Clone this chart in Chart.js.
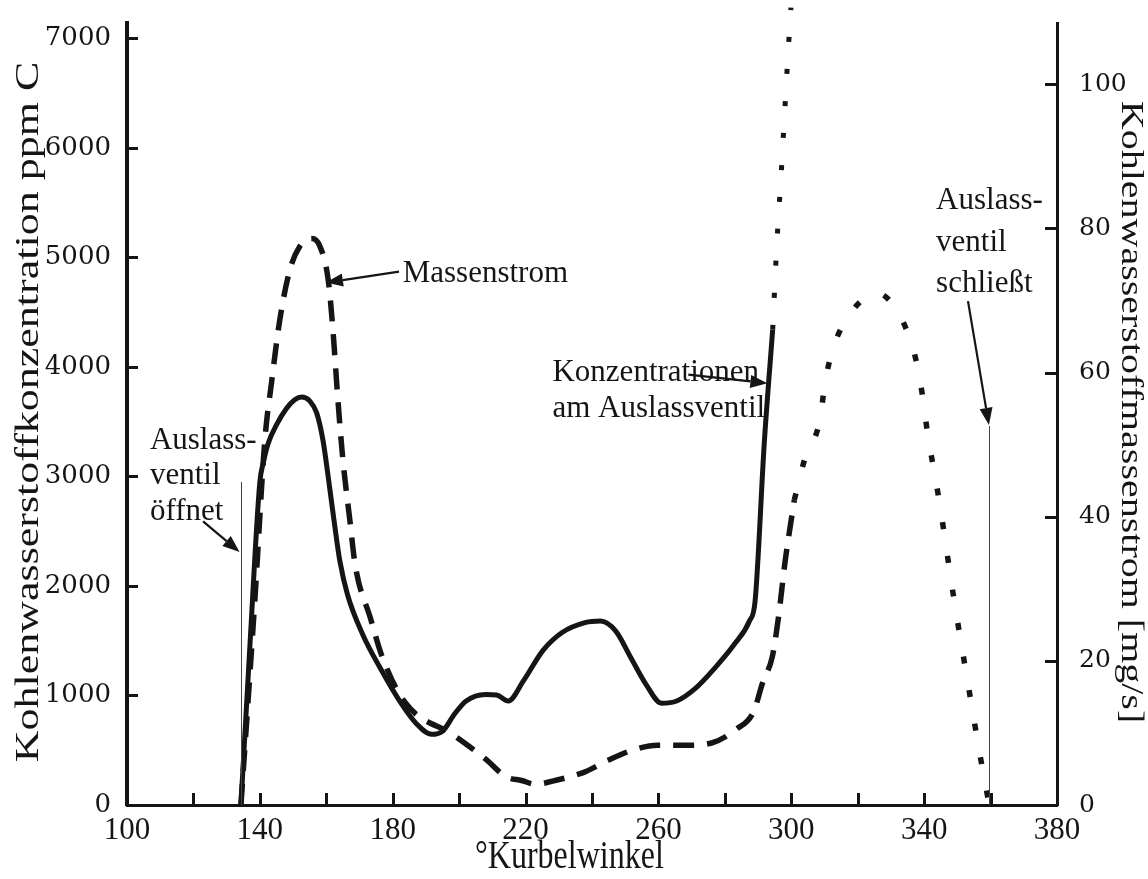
<!DOCTYPE html>
<html>
<head>
<meta charset="utf-8">
<script src="https://cdn.jsdelivr.net/npm/chart.js@4/dist/chart.umd.min.js"></script>
<style>
  html, body { margin: 0; padding: 0; background: #ffffff; }
  #wrap { width: 1148px; height: 879px; position: relative; }
</style>
</head>
<body>
<div id="wrap"><canvas id="c"></canvas></div>
<script>
// Crank angle [°KW] and HC concentration at the exhaust valve [ppm C]
const concAngle = [134.3, 137, 140, 141, 142.5, 145, 148, 150.5, 152.6, 155, 157.1, 159, 161, 162.5, 164.1, 166.4, 171, 176.7, 182.6, 187.2, 191.7, 195.2, 198.6, 202.1, 207.9, 211.3, 214.8, 219.4, 225.2, 231, 237.9, 242.5, 247.1, 251.7, 256.3, 260.9, 265.5, 271.3, 277.1, 282.8, 287.4, 289.1, 291.9, 294.4];
const concPpm = [0, 1450, 2950, 3120, 3300, 3470, 3620, 3700, 3725, 3690, 3580, 3330, 2900, 2560, 2225, 1920, 1555, 1225, 925, 740, 645, 680, 830, 950, 1010, 1005, 950, 1135, 1410, 1575, 1665, 1680, 1590, 1345, 1100, 930, 950, 1070, 1255, 1465, 1680, 1860, 3320, 4340];

// Concentration continued beyond the measured range (dotted)
const concExtAngle = [294.4, 295.7, 296.9, 298.0, 299.1, 299.9];
const concExtPpm = [4340, 5150, 5730, 6320, 6900, 7280];

// HC mass flow [mg/s]
const flowAngle = [134.3, 138.5, 141.5, 143.6, 146.0, 149.0, 152.0, 155.6, 158.0, 160.6, 162.0, 163.5, 165.0, 167.1, 168.7, 173.3, 176.8, 183.6, 198.6, 207.9, 214.2, 218.8, 222.9, 229.8, 237.9, 244.8, 252.8, 259.7, 269.0, 276.0, 283.4, 288.6, 291.4, 294.3, 296.1, 298.2, 300.9];
const flowMgs = [0, 28.5, 50.6, 58.9, 67.3, 74.2, 77.5, 78.6, 77.6, 72.8, 65.9, 56.2, 47.9, 39.5, 33.3, 25.9, 20.6, 14.3, 9.6, 6.4, 3.9, 3.4, 2.9, 3.5, 4.6, 6.2, 7.7, 8.3, 8.3, 8.6, 10.5, 12.9, 17.0, 20.6, 25.9, 34.0, 42.3];

// Mass flow continued until the exhaust valve closes (dotted)
const flowExtAngle = [300.9, 304, 308.6, 310.2, 312.9, 318, 322, 326, 330, 333.7, 337.3, 339.4, 340.9, 344.5, 349, 353.5, 357.1, 359.6];
const flowExtMgs = [42.3, 47.9, 53.4, 58.7, 63.8, 68.3, 70.3, 71.0, 69.8, 67.0, 62.2, 57.1, 52.0, 42.3, 28.5, 16.0, 6.2, 0];

// Axis ticks
const angleTicks = [100, 120, 140, 160, 180, 200, 220, 240, 260, 280, 300, 320, 340, 360, 380];
const angleLabels = [100, 140, 180, 220, 260, 300, 340, 380];
const ppmTicks = [0, 1000, 2000, 3000, 4000, 5000, 6000, 7000];
const flowTicks = [0, 20, 40, 60, 80, 100];

// Axis titles
const xTitle = '°Kurbelwinkel';
const yTitle = 'Kohlenwasserstoffkonzentration ppm C';
const y1Title = 'Kohlenwasserstoffmassenstrom [mg/s]';

// Valve events [°KW, top of marker line in ppm C]
const valveOpen = [134.3, 2950];
const valveClose = [359.6, 3460];

// Callouts: text lines and arrows, in axis units (°KW, ppm C)
const callouts = [
  { lines: ['Auslass-', 'ventil', 'öffnet'], at: [106.9, 3321], step: 320 },
  { lines: ['Massenstrom'], at: [183.0, 4849], step: 0 },
  { lines: ['Konzentrationen', 'am Auslassventil'], at: [228.1, 3943], step: 329 },
  { lines: ['Auslass-', 'ventil', 'schließt'], at: [343.6, 5517], step: 380 }
];
const arrows = [
  { from: [122.9, 2590], to: [133.9, 2310] },
  { from: [181.9, 4870], to: [159.9, 4770] },
  { from: [269.0, 3930], to: [292.8, 3850] },
  { from: [353.2, 4600], to: [359.5, 3470] }
];

const INK = '#151515';
const SERIF = '"Liberation Serif", "Times New Roman", serif';
const pairs = (xs, ys) => xs.map((v, i) => ({ x: v, y: ys[i] }));

// Narrow title lettering: squeeze the glyphs across the screen's horizontal direction
function narrowText(ctx, text, cx, cy, rot, size, squeeze) {
  ctx.save();
  ctx.translate(cx, cy);
  ctx.rotate(rot);
  if (rot === 0) ctx.scale(squeeze, 1); else ctx.scale(1, squeeze);
  ctx.font = size + 'px ' + SERIF;
  ctx.fillStyle = INK;
  ctx.textAlign = 'center';
  ctx.textBaseline = 'middle';
  ctx.fillText(text, 0, 0);
  ctx.restore();
}

// Short tick marks pointing into the plot area, plus the axis titles
const frame = {
  id: 'frame',
  afterDraw(chart) {
    const { ctx, chartArea: a } = chart;
    const sx = chart.scales.x, sl = chart.scales.y, sr = chart.scales.y1;
    ctx.save();
    ctx.strokeStyle = INK;
    ctx.lineWidth = 3;
    ctx.beginPath();
    angleTicks.forEach(v => {
      const px = Math.round(sx.getPixelForValue(v)) + 0.5;
      ctx.moveTo(px, a.bottom); ctx.lineTo(px, a.bottom - 12);
    });
    ppmTicks.forEach(v => {
      if (v === 0) return;
      const py = Math.round(sl.getPixelForValue(v)) + 0.5;
      ctx.moveTo(a.left, py); ctx.lineTo(a.left + 11, py);
    });
    flowTicks.forEach(v => {
      if (v === 0) return;
      const py = Math.round(sr.getPixelForValue(v)) + 0.5;
      ctx.moveTo(a.right, py); ctx.lineTo(a.right - 12, py);
    });
    ctx.stroke();
    ctx.restore();
    const midY = (a.top + a.bottom) / 2 - 2;
    narrowText(ctx, xTitle, sx.getPixelForValue(233.2), a.bottom + 52, 0, 40, 0.8);
    narrowText(ctx, yTitle, 29, midY, -Math.PI / 2, 44, 0.78);
    narrowText(ctx, y1Title, chart.width - 18, midY, Math.PI / 2, 40, 0.8);
  }
};

// Valve marker lines, callout texts and arrows
const callout = {
  id: 'callout',
  afterDatasetsDraw(chart) {
    const { ctx } = chart;
    const sx = chart.scales.x, sy = chart.scales.y;
    const P = (p) => [sx.getPixelForValue(p[0]), sy.getPixelForValue(p[1])];
    ctx.save();
    ctx.strokeStyle = '#444';
    ctx.lineWidth = 1;
    [valveOpen, valveClose].forEach(v => {
      const [x0, y0] = P([v[0], 0]);
      const [, y1] = P([v[0], v[1]]);
      ctx.beginPath();
      ctx.moveTo(Math.round(x0) + 0.5, y0);
      ctx.lineTo(Math.round(x0) + 0.5, y1);
      ctx.stroke();
    });
    ctx.fillStyle = INK;
    ctx.font = '31px ' + SERIF;
    ctx.textAlign = 'left';
    ctx.textBaseline = 'middle';
    callouts.forEach(c => {
      c.lines.forEach((t, i) => {
        const [px, py] = P([c.at[0], c.at[1] - i * c.step]);
        ctx.fillText(t, px, py);
      });
    });
    ctx.strokeStyle = INK;
    ctx.lineWidth = 2.2;
    arrows.forEach(a => {
      const [x0, y0] = P(a.from);
      const [x1, y1] = P(a.to);
      const ang = Math.atan2(y1 - y0, x1 - x0);
      const hl = 17, hw = 6.5;
      const bx = x1 - hl * Math.cos(ang), by = y1 - hl * Math.sin(ang);
      ctx.beginPath();
      ctx.moveTo(x0, y0);
      ctx.lineTo(bx, by);
      ctx.stroke();
      ctx.beginPath();
      ctx.moveTo(x1, y1);
      ctx.lineTo(bx + hw * Math.sin(ang), by - hw * Math.cos(ang));
      ctx.lineTo(bx - hw * Math.sin(ang), by + hw * Math.cos(ang));
      ctx.closePath();
      ctx.fill();
    });
    ctx.restore();
  }
};

const lineBase = {
  borderColor: INK,
  backgroundColor: INK,
  pointRadius: 0,
  fill: false,
  cubicInterpolationMode: 'monotone',
  borderCapStyle: 'butt'
};

// Keep the plot frame fixed: no extra room for overhanging tick labels
const noOverhang = s => { s.paddingTop = 0; s.paddingBottom = 0; s.paddingLeft = 0; s.paddingRight = 0; };

new Chart(document.getElementById('c'), {
  type: 'line',
  data: {
    datasets: [
      Object.assign({}, lineBase, { label: 'Konzentration', yAxisID: 'y', data: pairs(concAngle, concPpm), borderWidth: 5 }),
      Object.assign({}, lineBase, { label: 'Konzentration (extrapoliert)', yAxisID: 'y', data: pairs(concExtAngle, concExtPpm), borderWidth: 5, borderDash: [5, 27], clip: false }),
      Object.assign({}, lineBase, { label: 'Massenstrom', yAxisID: 'y1', data: pairs(flowAngle, flowMgs), borderWidth: 5.5, borderDash: [21, 13] }),
      Object.assign({}, lineBase, { label: 'Massenstrom (extrapoliert)', yAxisID: 'y1', data: pairs(flowExtAngle, flowExtMgs), borderWidth: 5.5, borderDash: [7, 27] })
    ]
  },
  options: {
    responsive: true,
    maintainAspectRatio: false,
    animation: false,
    events: [],
    layout: { padding: { top: 23, left: 0, right: 0, bottom: 0 } },
    plugins: { legend: { display: false }, tooltip: { enabled: false } },
    scales: {
      x: {
        type: 'linear',
        min: 100, max: 380,
        afterBuildTicks: s => { s.ticks = angleTicks.map(v => ({ value: v })); },
        afterFit: s => { s.height = 74; noOverhang(s); },
        grid: { display: false, drawTicks: false },
        border: { display: true, color: INK, width: 3 },
        ticks: {
          autoSkip: false, maxRotation: 0, padding: 7, color: INK,
          font: { family: SERIF, size: 31 },
          callback: v => angleLabels.includes(v) ? String(v) : ''
        },
        title: { display: false, text: xTitle }
      },
      y: {
        position: 'left',
        min: 0, max: 7140,
        afterBuildTicks: s => { s.ticks = ppmTicks.map(v => ({ value: v })); },
        afterFit: s => { s.width = 127; noOverhang(s); },
        grid: { display: false, drawTicks: false },
        border: { display: true, color: INK, width: 4 },
        ticks: {
          padding: 16, color: INK,
          font: { family: '"DejaVu Serif", serif', size: 26 },
          callback: v => String(v)
        },
        title: { display: false, text: yTitle }
      },
      y1: {
        position: 'right',
        min: 0, max: 108.5,
        afterBuildTicks: s => { s.ticks = flowTicks.map(v => ({ value: v })); },
        afterFit: s => { s.width = 91; noOverhang(s); },
        grid: { display: false, drawTicks: false },
        border: { display: true, color: INK, width: 3 },
        ticks: {
          padding: 22, color: INK,
          font: { family: '"DejaVu Serif", serif', size: 25 },
          callback: v => String(v)
        },
        title: { display: false, text: y1Title }
      }
    }
  },
  plugins: [frame, callout]
});
</script>
</body>
</html>
